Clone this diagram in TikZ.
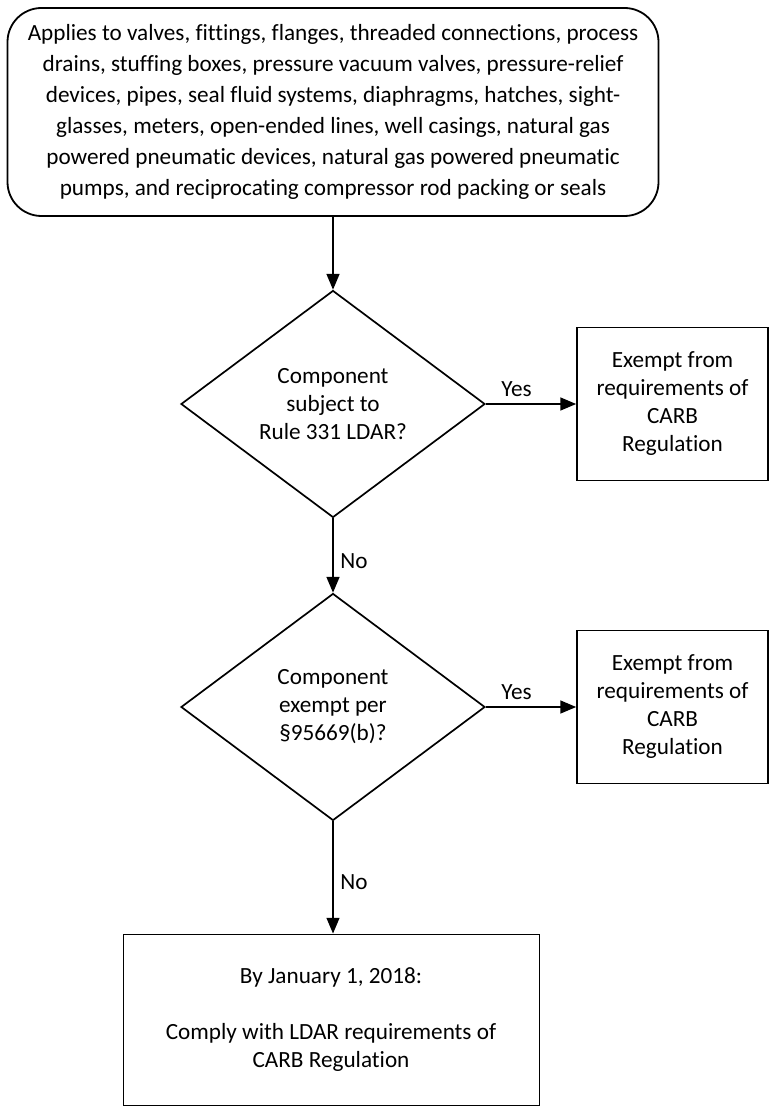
\documentclass[tikz,border=0pt]{standalone}
\usepackage{fontspec}
\setmainfont{Carlito}[Ligatures=NoCommon]
\usetikzlibrary{shapes, shapes.geometric}
\usetikzlibrary{arrows}
\usetikzlibrary{calc}

\begin{document}
\begin{tikzpicture}[x=0.5pt, y=-0.5pt,
        scope text/.style={font=\fontsize{11.6}{14}\selectfont},
        decision/.style={draw, diamond, line width=0.85pt, inner sep=0pt,
          minimum width=152pt, minimum height=113.5pt, align=center, scope text},
        exempt/.style={draw, rectangle, line width=0.9pt,
          minimum width=95.5pt, minimum height=76.5pt, align=center, scope text},
        flow/.style={>=triangle 45, ->, line width=0.8pt}]
        \useasboundingbox (0,0) rectangle (771,1107);

        \node[draw, rectangle, rounded corners=17pt, line width=0.9pt,
          minimum width=325.5pt, minimum height=104pt, align=center,
          font=\fontsize{11.6}{15.5}\selectfont] (scope) at (333,112)
        {Applies to valves, fittings, flanges, threaded connections, process\\
         drains, stuffing boxes, pressure vacuum valves, pressure-relief\\
         devices, pipes, seal fluid systems, diaphragms, hatches, sight-\\
         glasses, meters, open-ended lines, well casings, natural gas\\
         powered pneumatic devices, natural gas powered pneumatic\\
         pumps, and reciprocating compressor rod packing or seals};

        \node[decision] (rule) at (333,404)
        {Component\\subject to\\Rule 331 LDAR?};
        \node[exempt] (exA) at (672.5,404)
        {Exempt from\\requirements of\\CARB\\Regulation};

        \node[decision] (sect) at (333,707)
        {Component\\exempt per\\\S95669(b)?};
        \node[exempt] (exB) at (672.5,707)
        {Exempt from\\requirements of\\CARB\\Regulation};

        \node[draw, rectangle, line width=0.5pt, minimum width=208pt,
          minimum height=85.5pt, align=center, scope text] (comply) at (331,1019.5)
        {By January 1, 2018:\\[14pt]Comply with LDAR requirements of\\CARB Regulation};

        \draw[flow] (scope) -- (rule);
        \draw[flow] (rule) -- node[pos=.34, above, scope text] {Yes} (exA);
        \draw[flow] (rule) -- node[pos=.57, right, scope text] {No} (sect);
        \draw[flow] (sect) -- node[pos=.34, above, scope text] {Yes} (exB);
        \draw[flow] (sect.south) -- node[pos=.54, right, scope text] {No} (sect.south |- comply.north);
    \end{tikzpicture}
\end{document}
